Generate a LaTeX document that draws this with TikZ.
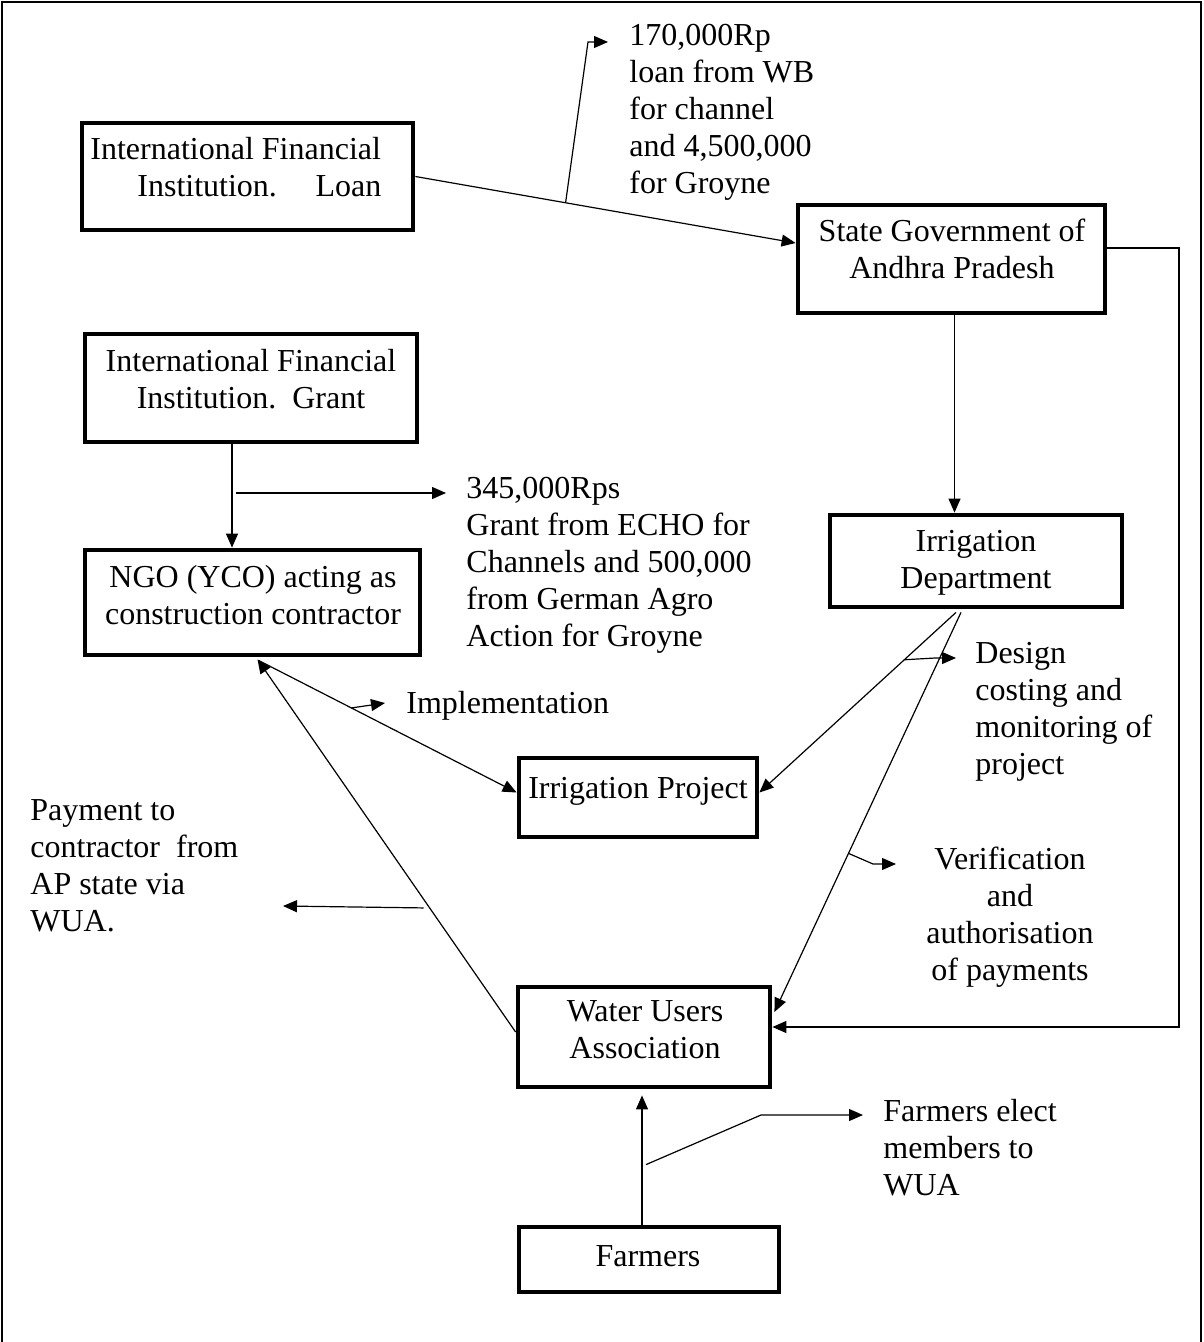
\documentclass[tikz,border=0pt]{standalone}
\usepackage{fontspec}
\setmainfont{Liberation Serif}
\usetikzlibrary{arrows.meta,calc}
\begin{document}
\begin{tikzpicture}[x=0.5pt,y=-0.5pt,
  box/.style={draw, line width=2.4pt, inner sep=0pt},
  txt/.style={inner sep=0pt, font=\fontsize{16pt}{18.5pt}\selectfont, execute at begin node=\strut, yshift=-1.5pt},
  con/.style={line width=0.6pt},
  arr/.style={con, -{Triangle[length=7pt,width=6pt]}}]
\useasboundingbox (0,0) rectangle (1203,1342);
\draw[line width=1pt] (2,1342) -- (2,2) -- (1201,2) -- (1201,1342);

% boxes
\node[box, minimum width=165.5pt, minimum height=53.5pt] (ifil) at (247.5,176.5) {};
\node[box, minimum width=153.5pt, minimum height=54pt] (sg) at (951.5,259) {};
\node[box, minimum width=166pt, minimum height=54pt] (ifig) at (251,388) {};
\node[box, minimum width=167.5pt, minimum height=52.5pt] (ngo) at (252.5,602.5) {};
\node[box, minimum width=146pt, minimum height=46pt] (ird) at (976,561) {};
\node[box, minimum width=119pt, minimum height=39.5pt] (irp) at (638,797.5) {};
\node[box, minimum width=126pt, minimum height=50pt] (wua) at (644,1037) {};
\node[box, minimum width=130pt, minimum height=32.5pt] (frm) at (649,1259.5) {};

% box texts
\node[txt, anchor=north west, align=left] (tifil) at (90,134) {International Financial\\\hspace*{23.5pt}Institution.\hspace{14pt} Loan};
\node[txt, anchor=north, align=center] (tsg) at (952,216) {State Government of\\Andhra Pradesh};
\node[txt, anchor=north, align=center] (tifig) at (251,346) {International Financial\\Institution.\ \ Grant};
\node[txt, anchor=north, align=center] (tngo) at (253,562) {NGO (YCO) acting as\\construction contractor};
\node[txt, anchor=north, align=center] (tird) at (976,527) {Irrigation\\Department};
\node[txt, anchor=north, align=center] (tirp) at (638,769) {Irrigation Project};
\node[txt, anchor=north, align=center] (twua) at (645,997) {Water Users\\Association};
\node[txt, anchor=north, align=center] (tfrm) at (648,1237) {Farmers};

% free labels
\node[txt, anchor=north west, align=left] (l1) at (629,21) {170,000Rp\\loan from WB\\for channel\\and 4,500,000\\for Groyne};
\node[txt, anchor=north west, align=left] (l2) at (466,474) {345,000Rps\\Grant from ECHO for\\Channels and 500,000\\from German Agro\\Action for Groyne};
\node[txt, anchor=north west, align=left] (l3) at (406,684) {Implementation};
\node[txt, anchor=north west, align=left] (l4) at (975,639) {Design\\costing and\\monitoring of\\project};
\node[txt, anchor=north, align=center] (l5) at (1010,844) {Verification\\and\\authorisation\\of payments};
\node[txt, anchor=north west, align=left] (l6) at (30,796) {Payment to\\contractor\ \ from\\AP state via\\WUA.};
\node[txt, anchor=north west, align=left] (l7) at (883,1096) {Farmers elect\\members to\\WUA};

% free arrow ends
\coordinate (t1) at (608,42);
\coordinate (t2) at (446,493);
\coordinate (t3) at (385,703);
\coordinate (t4) at (956,658);
\coordinate (t5) at (896,864);
\coordinate (t6) at (283,906);
\coordinate (t7) at (863,1115);
\coordinate (rc) at (1179,640);

% loan
\coordinate (a1) at (ifil.east);
\coordinate (b1) at ($(sg.west)+(0,-16)$);
\draw[arr] (a1) -- (b1);
\draw[arr] ($(a1)!0.395!(b1)$) -- (588,42) -- (t1);

% state gov -> irrigation dept
\draw[arr] ($(sg.south)+(3,0)$) coordinate (s0) -- (s0 |- ird.north);
% state gov -> WUA
\draw[arr] ($(sg.east)+(0,-11)$) -| (rc) |- ($(wua.east)+(0,-10)$);

% grant
\draw[arr] ($(ifig.south)+(-19,0)$) coordinate (g0) -- (g0 |- ngo.north);
\draw[arr] (236,493) -- (t2);

% NGO -> project
\coordinate (a2) at ($(ngo.south)+(6,3)$);
\coordinate (b2) at ($(irp.west)+(0,-5)$);
\draw[arr] (a2) -- (b2);
\draw[arr] ($(a2)!0.36!(b2)$) -- (t3);

% irrigation dept -> project
\coordinate (a3) at ($(ird.south)+(-20,3)$);
\coordinate (b3) at ($(irp.east)+(0,-5)$);
\draw[arr] (a3) -- (b3);
\draw[arr] ($(a3)!0.263!(b3)$) -- (935,658) -- (t4);

% irrigation dept -> WUA
\coordinate (a4) at ($(ird.south)+(-15,3)$);
\coordinate (b4) at ($(wua.east)+(2,-25)$);
\draw[arr] (a4) -- (b4);
\draw[arr] ($(a4)!0.603!(b4)$) -- (873,864) -- (t5);

% WUA -> NGO
\coordinate (a5) at ($(wua.west)+(0,-5)$);
\coordinate (b5) at ($(ngo.south)+(5,2)$);
\draw[arr] (a5) -- (b5);
\draw[arr] ($(a5)!0.333!(b5)+(-6,0)$) -- (t6);

% farmers -> WUA
\draw[arr] ($(frm.north)+(-7,0)$) coordinate (f0) -- ($(f0 |- wua.south)+(0,6)$);
\draw[arr] ($(f0)+(4,-60)$) -- (761,1115) -- (t7);
\end{tikzpicture}
\end{document}
